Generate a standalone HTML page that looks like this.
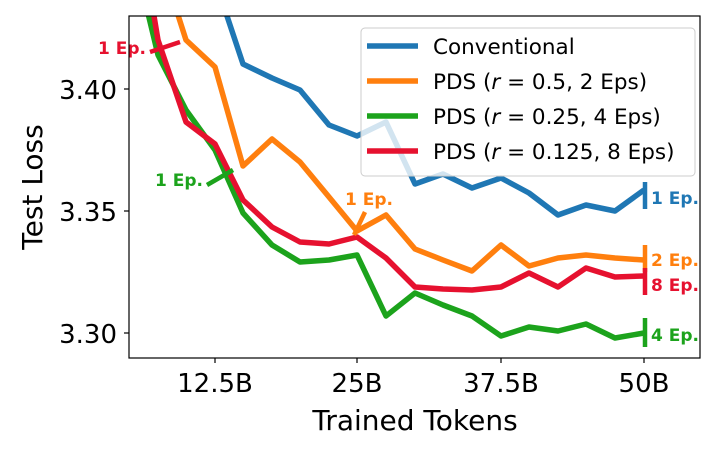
<!DOCTYPE html><html><head><style>body{margin:0;background:#fff}</style></head><body>
<svg width="720" height="451" xmlns="http://www.w3.org/2000/svg" font-family="'DejaVu Sans','Liberation Sans',sans-serif">
<defs><clipPath id="c"><rect x="129" y="16" width="571" height="342"/></clipPath></defs>
<g clip-path="url(#c)" fill="none" stroke-width="5.5" stroke-linejoin="round">
<polyline stroke="#1f77b4" points="215,-20 243,64 272,78 300,90 329,125 357,136 386,122 415,184 443,174 472,188 501,178 529,193 558,215 586,205 615,211 644,190"/>
<polyline stroke="#ff7f0e" points="170,-10 186,40 215,67 243,166 272,139 300,162 329,197 357,231 386,215 415,249 443,260 472,271 501,245 529,266 558,258 586,255 615,258 644,260"/>
<polyline stroke="#1ca31c" points="140,-20 158,55 186,110 215,150 243,213 272,245 300,262 329,260 357,255 386,316 415,293 443,305 472,316 501,336 529,327 558,331 586,324 615,338 644,333"/>
<polyline stroke="#e6112f" points="148,-20 158,40 186,122 215,144 243,200 272,227 300,242 329,244 357,237 386,258 415,287 443,289 472,290 501,287 529,273 558,287 586,268 615,277 644,276"/>
<g stroke-width="4.5">
<line x1="150" y1="52" x2="180" y2="42" stroke="#e6112f"/>
<line x1="207" y1="185" x2="233" y2="170" stroke="#1ca31c"/>
<line x1="354" y1="235" x2="365" y2="212" stroke="#ff7f0e"/>
<line x1="645" y1="182" x2="645" y2="209" stroke="#1f77b4"/>
<line x1="645" y1="245" x2="645" y2="272" stroke="#ff7f0e"/>
<line x1="645" y1="268" x2="645" y2="295" stroke="#e6112f"/>
<line x1="645" y1="318" x2="645" y2="347" stroke="#1ca31c"/>
</g></g>
<g font-size="17" font-weight="bold">
<text x="98" y="54" fill="#e6112f">1 Ep.</text>
<text x="155" y="186" fill="#1ca31c">1 Ep.</text>
<text x="345" y="205" fill="#ff7f0e">1 Ep.</text>
<text x="651" y="204" fill="#1f77b4">1 Ep.</text>
<text x="651" y="266" fill="#ff7f0e">2 Ep.</text>
<text x="651" y="291" fill="#e6112f">8 Ep.</text>
<text x="651" y="341" fill="#1ca31c">4 Ep.</text>
</g>
<rect x="129" y="16" width="571" height="342" fill="none" stroke="#000" stroke-width="1.2"/>
<g stroke="#000" stroke-width="1.2">
<line x1="124" y1="89" x2="129" y2="89"/><line x1="124" y1="211" x2="129" y2="211"/><line x1="124" y1="333" x2="129" y2="333"/>
<line x1="215" y1="358" x2="215" y2="363"/><line x1="357" y1="358" x2="357" y2="363"/><line x1="501" y1="358" x2="501" y2="363"/><line x1="644" y1="358" x2="644" y2="363"/>
</g>
<g font-size="26" fill="#000">
<text x="117" y="99" text-anchor="end">3.40</text>
<text x="117" y="221" text-anchor="end">3.35</text>
<text x="117" y="343" text-anchor="end">3.30</text>
<text x="215" y="392" text-anchor="middle">12.5B</text>
<text x="357" y="392" text-anchor="middle">25B</text>
<text x="501" y="392" text-anchor="middle">37.5B</text>
<text x="644" y="392" text-anchor="middle">50B</text>
<text x="415" y="430" text-anchor="middle" font-size="28">Trained Tokens</text>
<text transform="translate(42,187) rotate(-90)" text-anchor="middle" font-size="28">Test Loss</text>
</g>
<rect x="361" y="28" width="334" height="148" rx="4" fill="#fff" fill-opacity="0.8" stroke="#ccc"/>
<g stroke-width="5.5"><line x1="367" y1="46" x2="418" y2="46" stroke="#1f77b4"/><line x1="367" y1="81" x2="418" y2="81" stroke="#ff7f0e"/><line x1="367" y1="116" x2="418" y2="116" stroke="#1ca31c"/><line x1="367" y1="151" x2="418" y2="151" stroke="#e6112f"/></g>
<g font-size="21.5" fill="#000">
<text x="433" y="54">Conventional</text>
<text x="433" y="89">PDS (<tspan font-style="italic">r</tspan> = 0.5, 2 Eps)</text>
<text x="433" y="124">PDS (<tspan font-style="italic">r</tspan> = 0.25, 4 Eps)</text>
<text x="433" y="159">PDS (<tspan font-style="italic">r</tspan> = 0.125, 8 Eps)</text>
</g>
</svg></body></html>
